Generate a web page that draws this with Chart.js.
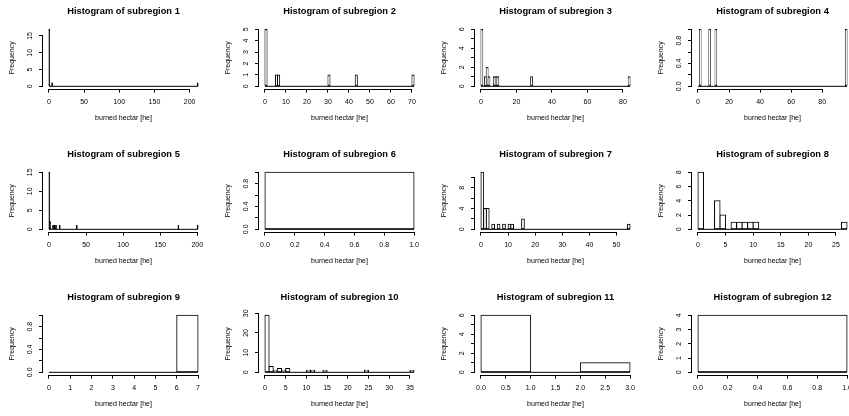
<!DOCTYPE html>
<html>
<head>
<meta charset="utf-8">
<script src="https://cdn.jsdelivr.net/npm/chart.js@4.4.0/dist/chart.umd.min.js"></script>
<style>
  html, body { margin: 0; padding: 0; background: #fff; overflow: hidden; }
  body { width: 849px; height: 416px; position: relative; }
  canvas { position: absolute; }
</style>
</head>
<body>
<script>
// burned area per fire, counted in 1 ha classes; only non-empty classes are listed
const sub1Bins = [0, 4, 211];                      const sub1Counts = [17, 1, 1];                    const sub1Last = 212;
const sub2Bins = [0, 5, 6, 30, 43, 70];            const sub2Counts = [5, 1, 1, 1, 1, 1];            const sub2Last = 71;
const sub3Bins = [0, 2, 3, 4, 7, 8, 9, 28, 83];    const sub3Counts = [6, 1, 2, 1, 1, 1, 1, 1, 1];   const sub3Last = 84;
const sub4Bins = [1, 7, 11, 95];                   const sub4Counts = [1, 1, 1, 1];                  const sub4Last = 96;
const sub5Bins = [0, 1, 5, 7, 9, 14, 37, 174, 200]; const sub5Counts = [15, 2, 1, 1, 1, 1, 1, 1, 1]; const sub5Last = 201;
const sub6Bins = [0];                              const sub6Counts = [1];                           const sub6Last = 1;
const sub7Bins = [0, 1, 2, 4, 6, 8, 10, 11, 15, 54]; const sub7Counts = [11, 4, 4, 1, 1, 1, 1, 1, 2, 1]; const sub7Last = 55;
const sub8Bins = [0, 3, 4, 6, 7, 8, 9, 10, 26];    const sub8Counts = [8, 4, 2, 1, 1, 1, 1, 1, 1];   const sub8Last = 27;
const sub9Bins = [6];                              const sub9Counts = [1];                           const sub9Last = 7;
const sub10Bins = [0, 1, 2, 3, 4, 5, 10, 11, 14, 24, 35]; const sub10Counts = [29, 3, 1, 2, 1, 2, 1, 1, 1, 1, 1]; const sub10Last = 36;
const sub11Bins = [0, 2];                          const sub11Counts = [6, 1];                       const sub11Last = 3;
const sub12Bins = [0];                             const sub12Counts = [4];                          const sub12Last = 1;

// axis ticks, and the y ticks that carry a label
const xTicks = [
  [0, 50, 100, 150, 200], [0, 10, 20, 30, 40, 50, 60, 70], [0, 20, 40, 60, 80], [0, 20, 40, 60, 80],
  [0, 50, 100, 150, 200], [0, 0.2, 0.4, 0.6, 0.8, 1], [0, 10, 20, 30, 40, 50], [0, 5, 10, 15, 20, 25],
  [0, 1, 2, 3, 4, 5, 6, 7], [0, 5, 10, 15, 20, 25, 30, 35], [0, 0.5, 1, 1.5, 2, 2.5, 3], [0, 0.2, 0.4, 0.6, 0.8, 1]
];
const yTicks = [
  [0, 5, 10, 15], [0, 1, 2, 3, 4, 5], [0, 1, 2, 3, 4, 5, 6], [0, 0.2, 0.4, 0.6, 0.8, 1],
  [0, 5, 10, 15], [0, 0.2, 0.4, 0.6, 0.8, 1], [0, 2, 4, 6, 8, 10], [0, 2, 4, 6, 8],
  [0, 0.2, 0.4, 0.6, 0.8, 1], [0, 10, 20, 30], [0, 1, 2, 3, 4, 5, 6], [0, 1, 2, 3, 4]
];
const yLabels = [
  [0, 5, 10, 15], [0, 1, 2, 3, 4, 5], [0, 2, 4, 6], [0, 0.4, 0.8],
  [0, 5, 10, 15], [0, 0.4, 0.8], [0, 4, 8], [0, 2, 4, 6, 8],
  [0, 0.4, 0.8], [0, 10, 20, 30], [0, 2, 4, 6], [0, 1, 2, 3, 4]
];

const subregions = [
  [sub1Bins, sub1Counts, sub1Last], [sub2Bins, sub2Counts, sub2Last], [sub3Bins, sub3Counts, sub3Last],
  [sub4Bins, sub4Counts, sub4Last], [sub5Bins, sub5Counts, sub5Last], [sub6Bins, sub6Counts, sub6Last],
  [sub7Bins, sub7Counts, sub7Last], [sub8Bins, sub8Counts, sub8Last], [sub9Bins, sub9Counts, sub9Last],
  [sub10Bins, sub10Counts, sub10Last], [sub11Bins, sub11Counts, sub11Last], [sub12Bins, sub12Counts, sub12Last]
];

const FONT = '"Liberation Sans", Arial, Helvetica, sans-serif';
const PLOT_W = 161, PLOT_H = 61.6, Y_AXIS_W = 43, TITLE_H = 27, CANVAS_W = 216, CANVAS_H = 143;
const colLeft = [42.7, 259.3, 475.3, 691.7];
const rowTop = [27, 170, 313];
const PAD = 0.04; // axis range extension on each side

const decimals = ticks => (ticks.some(v => !Number.isInteger(v)) ? 1 : 0);

// base-graphics style axes: line only from first to last tick, rotated y labels
const rAxes = {
  id: 'rAxes',
  afterDraw(chart) {
    const { ctx, chartArea: a, scales: { x, y } } = chart;
    const opts = chart.options.plugins.rAxes;
    const snap = v => Math.round(v - 0.5) + 0.5;
    const x0 = snap(x.getPixelForValue(x.ticks[0].value));
    const x1 = snap(x.getPixelForValue(x.ticks[x.ticks.length - 1].value));
    const y0 = snap(y.getPixelForValue(y.ticks[0].value));
    const y1 = snap(y.getPixelForValue(y.ticks[y.ticks.length - 1].value));
    ctx.save();
    ctx.strokeStyle = '#000';
    ctx.lineWidth = 1;
    ctx.beginPath();
    ctx.moveTo(x0 - 0.5, Math.round(a.bottom) + 0.5);
    ctx.lineTo(x1 + 0.5, Math.round(a.bottom) + 0.5);
    ctx.moveTo(Math.round(a.left) - 0.5, y0 + 0.5);
    ctx.lineTo(Math.round(a.left) - 0.5, y1 - 0.5);
    ctx.stroke();

    ctx.fillStyle = '#000';
    ctx.font = '7px ' + FONT;
    ctx.textAlign = 'center';
    ctx.textBaseline = 'middle';
    for (const v of opts.labels) {
      ctx.save();
      ctx.translate(a.left - 13.4, y.getPixelForValue(v));
      ctx.rotate(-Math.PI / 2);
      ctx.fillText(v.toFixed(opts.dec), 0, 0);
      ctx.restore();
    }
    ctx.restore();
  }
};

subregions.forEach(([bins, counts, last], i) => {
  const col = i % 4, row = Math.floor(i / 4);
  const cv = document.createElement('canvas');
  const left = Math.round(colLeft[col]) - Y_AXIS_W;
  cv.width = CANVAS_W;
  cv.height = CANVAS_H;
  cv.style.left = left + 'px';
  cv.style.top = (rowTop[row] - TITLE_H) + 'px';
  document.body.appendChild(cv);

  const ymax = Math.max(...counts);
  const classes = [];
  for (let b = 0; b < last; b++) {
    const k = bins.indexOf(b);
    classes.push({ x: b + 0.5, y: k < 0 ? 0 : counts[k] });
  }
  const binPx = PLOT_W / (last * (1 + 2 * PAD));
  const xd = decimals(xTicks[i]);

  new Chart(cv, {
    type: 'bar',
    data: {
      datasets: [
        {
          type: 'line',
          data: [{ x: 0, y: 0 }, { x: last, y: 0 }],
          borderColor: '#000', borderWidth: 1, pointRadius: 0, order: 0
        },
        {
          type: 'bar',
          data: classes,
          backgroundColor: binPx < 1.2 ? '#000' : '#fff',
          borderColor: '#000', borderWidth: 1, borderSkipped: false,
          inflateAmount: 0.5, barThickness: binPx, order: 1
        }
      ]
    },
    options: {
      responsive: false,
      animation: false,
      events: [],
      layout: { padding: { left: 0, top: 0, right: CANVAS_W - Y_AXIS_W - PLOT_W, bottom: 0 } },
      plugins: {
        legend: { display: false },
        tooltip: { enabled: false },
        title: {
          display: true, text: 'Histogram of subregion ' + (i + 1), fullSize: false, color: '#000',
          font: { family: FONT, size: 9.3, weight: 'bold', lineHeight: 1.2 },
          padding: { top: 5.4, bottom: 10.4 }
        },
        rAxes: { labels: yLabels[i], dec: decimals(yTicks[i]) }
      },
      scales: {
        x: {
          type: 'linear',
          offset: false,
          min: -PAD * last,
          max: last * (1 + PAD),
          afterBuildTicks: s => { s.ticks = xTicks[i].map(v => ({ value: v })); },
          afterFit: s => { s.height = CANVAS_H - TITLE_H - PLOT_H; },
          grid: { offset: false, drawOnChartArea: false, color: '#000', tickLength: 4 },
          border: { display: false },
          ticks: {
            color: '#000', font: { family: FONT, size: 7 }, padding: 4.9,
            maxRotation: 0, autoSkip: false, callback: v => v.toFixed(xd)
          },
          title: {
            display: true, text: 'burned hectar [he]', color: '#000',
            font: { family: FONT, size: 7 }, padding: { top: 0, bottom: 20.4 }
          }
        },
        y: {
          type: 'linear',
          min: -PAD * ymax,
          max: ymax * (1 + PAD),
          afterBuildTicks: s => { s.ticks = yTicks[i].map(v => ({ value: v })); },
          afterFit: s => { s.width = Y_AXIS_W; },
          grid: { drawOnChartArea: false, color: '#000', tickLength: 4 },
          border: { display: false },
          ticks: { display: false },
          title: {
            display: true, text: 'Frequency', color: '#000',
            font: { family: FONT, size: 7 }, padding: { top: 7.8, bottom: 0 }
          }
        }
      }
    },
    plugins: [rAxes]
  });
});
</script>
</body>
</html>
